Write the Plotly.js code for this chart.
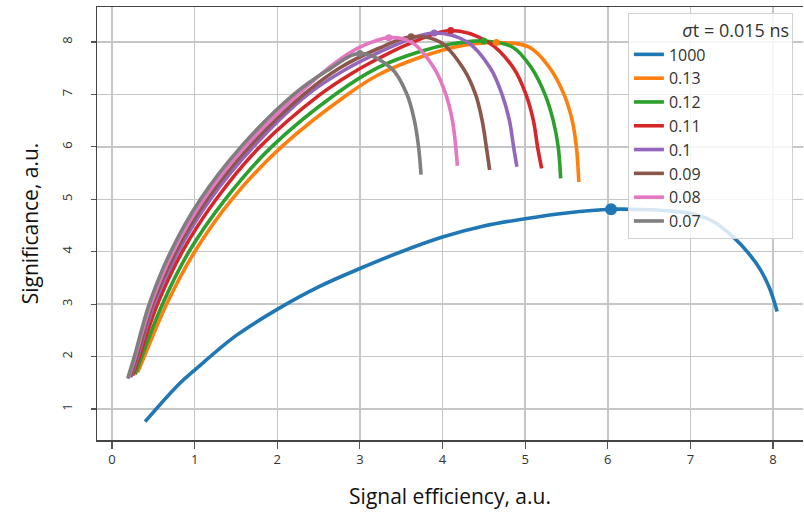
<!DOCTYPE html>
<html>
<head>
<meta charset="utf-8">
<script src="https://cdn.plot.ly/plotly-3.0.1.min.js"></script>
<style>html,body{margin:0;padding:0;background:#fff;}#chart{width:804px;height:517px;}</style>
</head>
<body>
<div id="chart"></div>
<script>
// Legend labels
const labels = ["1000", "0.13", "0.12", "0.11", "0.1", "0.09", "0.08", "0.07"];
const colors = ["#1f77b4", "#ff7f0e", "#2ca02c", "#d62728", "#9467bd", "#8c564b", "#e377c2", "#7f7f7f"];
const xTicks = [0, 1, 2, 3, 4, 5, 6, 7, 8];
const yTicks = [1, 2, 3, 4, 5, 6, 7, 8];

// Series: signal efficiency (x) and significance (y)
const x1000 = [0.40, 0.80, 1.02, 1.50, 2.02, 2.50, 3.00, 3.50, 4.00, 4.50, 5.00, 5.50, 6.04, 6.50, 6.80, 7.03, 7.25, 7.52, 7.70, 7.85, 7.96, 8.05];
const y1000 = [0.76, 1.46, 1.77, 2.40, 2.92, 3.33, 3.68, 4.00, 4.28, 4.49, 4.63, 4.74, 4.81, 4.80, 4.77, 4.72, 4.60, 4.28, 3.98, 3.65, 3.30, 2.86];

const x013 = [0.31, 0.39, 0.66, 1.00, 1.45, 2.05, 2.85, 3.23, 3.73, 4.20, 4.65, 5.05, 5.30, 5.47, 5.57, 5.62, 5.65];
const y013 = [1.70, 2.00, 3.00, 4.00, 5.00, 6.00, 7.00, 7.38, 7.71, 7.92, 7.99, 7.90, 7.50, 7.00, 6.50, 6.00, 5.33];

const x012 = [0.28, 0.36, 0.61, 0.93, 1.37, 1.93, 2.70, 3.23, 3.73, 4.10, 4.50, 4.85, 5.08, 5.24, 5.34, 5.40, 5.43];
const y012 = [1.66, 2.00, 3.00, 4.00, 5.00, 6.00, 7.00, 7.52, 7.82, 7.96, 8.02, 7.90, 7.50, 7.00, 6.50, 6.00, 5.40];

const x011 = [0.25, 0.33, 0.55, 0.85, 1.26, 1.79, 2.52, 2.90, 3.23, 3.60, 4.10, 4.55, 4.86, 5.01, 5.10, 5.15, 5.20];
const y011 = [1.64, 2.00, 3.00, 4.00, 5.00, 6.00, 7.00, 7.40, 7.69, 7.97, 8.22, 8.00, 7.50, 7.00, 6.50, 6.00, 5.59];

const x010 = [0.23, 0.31, 0.51, 0.80, 1.19, 1.71, 2.37, 2.80, 3.23, 3.60, 3.90, 4.30, 4.58, 4.72, 4.81, 4.86, 4.90];
const y010 = [1.62, 2.00, 3.00, 4.00, 5.00, 6.00, 7.00, 7.45, 7.80, 8.05, 8.17, 8.00, 7.50, 7.00, 6.50, 6.00, 5.62];

const x009 = [0.22, 0.30, 0.49, 0.77, 1.15, 1.66, 2.32, 2.75, 3.23, 3.62, 3.97, 4.25, 4.40, 4.48, 4.53, 4.57];
const y009 = [1.61, 2.00, 3.00, 4.00, 5.00, 6.00, 7.00, 7.50, 7.88, 8.10, 8.00, 7.50, 7.00, 6.50, 6.00, 5.56];

const x008 = [0.20, 0.28, 0.47, 0.74, 1.11, 1.61, 2.25, 2.70, 3.00, 3.35, 3.62, 3.90, 4.04, 4.12, 4.16, 4.18];
const y008 = [1.60, 2.00, 3.00, 4.00, 5.00, 6.00, 7.00, 7.60, 7.90, 8.08, 8.00, 7.50, 7.00, 6.50, 6.00, 5.64];

const x007 = [0.19, 0.27, 0.45, 0.71, 1.07, 1.56, 2.20, 2.60, 3.00, 3.38, 3.57, 3.66, 3.71, 3.74];
const y007 = [1.58, 2.00, 3.00, 4.00, 5.00, 6.00, 7.00, 7.45, 7.78, 7.50, 7.00, 6.50, 6.00, 5.47];

const legendTitle = "<i>σ</i>t = 0.015 ns";

const xs = [x1000, x013, x012, x011, x010, x009, x008, x007];
const ys = [y1000, y013, y012, y011, y010, y009, y008, y007];

const traces = [];
xs.forEach((x, i) => {
  traces.push({
    x: x, y: ys[i], type: "scatter", mode: "lines", name: labels[i],
    line: {color: colors[i], width: 3.6, shape: "spline", smoothing: 1}
  });
});
// markers at the maximum of each curve
xs.forEach((x, i) => {
  const y = ys[i];
  let k = 0;
  for (let j = 1; j < y.length; j++) if (y[j] > y[k]) k = j;
  traces.push({
    x: [x[k]], y: [y[k]], type: "scatter", mode: "markers", showlegend: false,
    hoverinfo: "skip", yaxis: i === 0 ? "y2" : "y",
    marker: {color: colors[i], size: i === 0 ? 12 : 7}
  });
});

const font = "'Open Sans', 'DejaVu Sans', sans-serif";
const pad = "\u00a0".repeat(11);
const yRange = [0.41, 8.667];
const layout = {
  width: 804, height: 517,
  margin: {l: 97, r: 1, t: 7, b: 77},
  paper_bgcolor: "#ffffff", plot_bgcolor: "#ffffff",
  font: {family: font, color: "#333333", size: 13},
  showlegend: true,
  xaxis: {
    range: [-0.182, 8.363], tickmode: "array", tickvals: xTicks,
    showgrid: true, gridcolor: "#c6c6c6", gridwidth: 1.5,
    zeroline: false, showline: true, linecolor: "#444444", linewidth: 1.5, mirror: true,
    ticks: "outside", ticklen: 7, tickwidth: 1.2, tickcolor: "#555555",
    tickfont: {size: 13, color: "#333333"},
    title: {text: "Signal efficiency, a.u.", font: {size: 21, color: "#111111"}, standoff: 22}
  },
  yaxis: {
    range: yRange, tickmode: "array", tickvals: yTicks,
    showgrid: true, gridcolor: "#c6c6c6", gridwidth: 1.5,
    zeroline: false, showline: true, linecolor: "#444444", linewidth: 1.5,
    ticks: "outside", ticklen: 18, tickwidth: 1.2, tickcolor: "rgba(0,0,0,0)",
    tickangle: -90, tickfont: {size: 13, color: "#333333"},
    title: {text: "Significance, a.u.", font: {size: 21, color: "#111111"}, standoff: 14}
  },
  yaxis2: {
    range: yRange, overlaying: "y", side: "left", anchor: "x",
    tickmode: "array", tickvals: yTicks, showticklabels: false,
    showgrid: false, zeroline: false, showline: false,
    ticks: "outside", ticklen: 5, tickwidth: 1.2, tickcolor: "#555555"
  },
  legend: {
    x: 0.752, y: 0.986, xanchor: "left", yanchor: "top",
    bgcolor: "rgba(255,255,255,0.82)", bordercolor: "#d0d0d0", borderwidth: 1,
    font: {family: font, size: 16, color: "#333333"},
    title: {text: pad + legendTitle, font: {family: font, size: 18, color: "#333333"}},
    tracegroupgap: 0
  }
};

Plotly.newPlot("chart", traces, layout, {staticPlot: true, displayModeBar: false});
</script>
</body>
</html>
